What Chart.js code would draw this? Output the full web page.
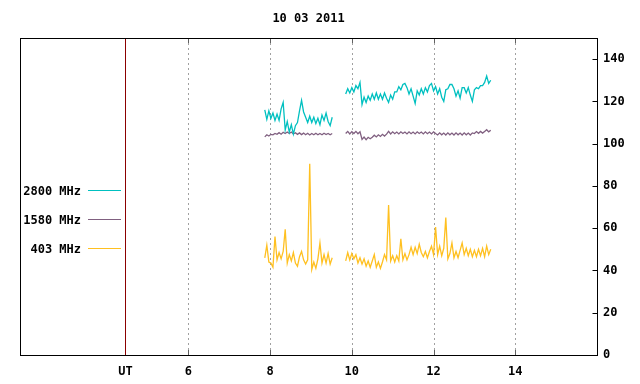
<!DOCTYPE html>
<html><head><meta charset="utf-8">
<script src="https://cdn.jsdelivr.net/npm/chart.js@4"></script>
<style>html,body{margin:0;padding:0;background:#fff}#wrap{width:640px;height:384px}</style>
</head><body><div id="wrap"><canvas id="c" width="640" height="384"></canvas></div>
<script>
const chartTitle = '10 03 2011';
const xTicks = [6, 8, 10, 12, 14];
const utHour = 4.46;
const utLabel = 'UT';
const yTicks = [0, 20, 40, 60, 80, 100, 120, 140];
const seriesLabels = ['2800 MHz', '1580 MHz', '403 MHz'];
const seriesColors = ['#00c0c0', '#806080', '#ffc020'];

const times = [
 7.87,7.92,7.97,8.02,8.07,8.12,8.17,8.22,8.27,8.32,8.37,8.42,8.47,8.52,8.57,8.62,8.67,8.72,8.77,8.82,8.87,8.92,8.97,9.02,9.07,9.12,9.17,9.22,9.27,9.32,9.37,9.42,9.47,9.52,
 9.68,
 9.85,9.90,9.95,10.00,10.05,10.10,10.15,10.20,10.25,10.30,10.35,10.40,10.45,10.50,10.55,10.60,10.65,10.70,10.75,10.80,10.85,10.90,10.95,11.00,11.05,11.10,11.15,11.20,11.25,11.30,11.35,11.40,11.45,11.50,11.55,11.60,11.65,11.70,11.75,11.80,11.85,11.90,11.95,12.00,12.05,12.10,12.15,12.20,12.25,12.30,12.35,12.40,12.45,12.50,12.55,12.60,12.65,12.70,12.75,12.80,12.85,12.90,12.95,13.00,13.05,13.10,13.15,13.20,13.25,13.30,13.35,13.40
];

const s2800 = [
 116,111.5,115.5,112,114.5,111,114,111,116.5,119.5,106.5,110.5,105.5,109,104.5,108.5,110,115.5,120.5,115,112.5,110,113,110,112.5,109.5,112,109,113.5,111,114.5,110.5,108.5,112.5,
 null,
 123.5,126,124,126.5,124.5,127.5,126,129,118.5,122,
 119.5,122.5,120.5,123.5,121,124,121,123.5,121,124,
 121.5,119.5,123,121,124.5,124.5,127,125.5,128,128.5,
 126.5,123.5,126,122.5,119,125,123,126,123.5,126.5,
 124.5,127.5,128.5,125,127,123.5,126,122,120,125.5,
 126,128,128,126,122.5,125,121.5,126.5,126.5,124,
 126.5,123,120,125.5,126.5,126,127.5,127.5,129,132,
 128.5,130
];

const s1580 = [
 103.2,104.2,103.6,104.4,104.2,104.8,104.4,105.2,104.5,105.4,104.8,105.5,104.8,105.5,104.6,105.2,104.4,105.1,104.3,105,104.2,104.9,104.1,104.8,104.2,104.9,104.2,104.8,104.2,104.9,104.3,104.8,104.2,104.8,
 null,
 104.8,105.8,104.6,105.7,104.8,105.8,104.7,105.6,
 102,103.1,101.9,103,102.3,
 103,104,103.2,104.2,103.4,104.4,103.6,104.5,
 105.8,
 104.6,105.6,104.7,105.5,104.6,105.6,104.8,105.5,104.6,105.6,104.7,105.5,104.6,105.6,104.8,105.5,104.6,105.6,104.7,105.5,104.6,105.6,104.8,
 104.1,105.1,104.2,105,104.1,105.1,104.2,105,104.1,105.1,104.2,105,104.1,105.1,104.2,105,104.1,105.1,
 104.8,105.7,104.9,105.8,105,
 105.8,106.6,105.6,106.4
];

const s403 = [
 46,52,44,43.5,41.5,56,45,48.5,45.5,49,59.5,43.5,47.5,44.5,48.5,43.5,42,46.5,49,45,43,45,90.5,40.5,44,41,45.5,53,43.5,47.5,43.5,48,43,46,
 null,
 44.5,48.5,45,48,45.5,47.5,43.5,46,43,45.5,
 42,44.5,41.5,44.5,47.5,41.5,44,41,44,47.5,
 45,71,44.5,47,44,47,44.5,55,45,48,
 45,47.5,51,47.5,51,48,52.5,48.5,46.5,49,
 46,49,51.5,47.5,60.5,47.5,51.5,47,50.5,65,
 45.5,48,53,46,49,46,49.5,53,47.5,50.5,
 47,50,46.5,49.5,46.5,50,47,50.5,46.5,51.5,
 47.5,50
];

const FONT = 'DejaVu Sans Mono';
Chart.defaults.font.family = FONT;
Chart.defaults.font.size = 12;
Chart.defaults.font.weight = 'bold';
Chart.defaults.color = '#000';

function pts(vals) { return times.map((t, i) => ({ x: t, y: vals[i] })); }

const framePlugin = {
  id: 'frame',
  beforeDatasetsDraw(chart) {
    const { ctx, chartArea: a, scales: { x } } = chart;
    ctx.save();
    ctx.lineWidth = 1;
    xTicks.forEach(v => {
      const px = Math.round(x.getPixelForValue(v)) + 0.5;
      ctx.strokeStyle = '#a0a0a0';
      ctx.setLineDash([2, 3]);
      ctx.beginPath(); ctx.moveTo(px, a.top); ctx.lineTo(px, a.bottom); ctx.stroke();
      ctx.setLineDash([]);
      ctx.strokeStyle = '#606060';
      ctx.beginPath(); ctx.moveTo(px, a.top); ctx.lineTo(px, a.top + 5); ctx.stroke();
      ctx.beginPath(); ctx.moveTo(px, a.bottom); ctx.lineTo(px, a.bottom - 5); ctx.stroke();
    });
    const ux = Math.round(x.getPixelForValue(utHour)) + 0.5;
    ctx.strokeStyle = '#8b0000';
    ctx.beginPath(); ctx.moveTo(ux, a.top); ctx.lineTo(ux, a.bottom); ctx.stroke();
    ctx.restore();
  },
  afterDatasetsDraw(chart) {
    const { ctx, chartArea: a, scales: { y } } = chart;
    ctx.save();
    ctx.lineWidth = 1;
    ctx.strokeStyle = '#000';
    const l = Math.round(a.left) + 0.5, r = Math.round(a.right) + 0.5;
    const t = Math.round(a.top) + 0.5, b = Math.round(a.bottom) + 0.5;
    ctx.strokeRect(l, t, r - l, b - t);
    yTicks.forEach(v => {
      const py = Math.round(y.getPixelForValue(v)) + 0.5;
      ctx.beginPath(); ctx.moveTo(r, py); ctx.lineTo(r - 5, py); ctx.stroke();
    });
    ctx.font = 'bold 12px ' + FONT;
    ctx.fillStyle = '#000';
    ctx.textBaseline = 'middle';
    ctx.textAlign = 'center';
    ctx.fillText(chartTitle, (a.left + a.right) / 2, 19);
    ctx.textAlign = 'right';
    chart.data.datasets.forEach((ds, i) => {
      const ly = 190.5 + i * 29;
      ctx.fillStyle = '#000';
      ctx.fillText(ds.label, 81, ly + 1);
      ctx.strokeStyle = ds.borderColor;
      ctx.beginPath(); ctx.moveTo(88, ly); ctx.lineTo(121, ly); ctx.stroke();
    });
    ctx.restore();
  }
};

new Chart(document.getElementById('c'), {
  type: 'line',
  data: {
    datasets: [
      { label: seriesLabels[0], data: pts(s2800), borderColor: seriesColors[0] },
      { label: seriesLabels[1], data: pts(s1580), borderColor: seriesColors[1] },
      { label: seriesLabels[2], data: pts(s403), borderColor: seriesColors[2] }
    ]
  },
  options: {
    responsive: false,
    devicePixelRatio: 1,
    animation: false,
    spanGaps: false,
    elements: { point: { radius: 0 }, line: { borderWidth: 1.3, tension: 0 } },
    layout: { padding: { left: 20, right: 0, top: 38, bottom: 0 } },
    plugins: {
      legend: { display: false },
      tooltip: { enabled: false },
      title: { display: false }
    },
    scales: {
      x: {
        type: 'linear', position: 'bottom', min: 1.88, max: 16,
        grid: { display: false, drawTicks: false },
        border: { display: false },
        afterBuildTicks: s => { s.ticks = [utHour, ...xTicks].map(v => ({ value: v })); },
        afterFit: s => { s.height = 29; },
        ticks: {
          autoSkip: false, maxRotation: 0, padding: 10,
          callback: v => (v === utHour ? utLabel : String(v))
        }
      },
      y: {
        type: 'linear', position: 'right', min: 0, max: 150,
        grid: { display: false, drawTicks: false },
        border: { display: false },
        afterBuildTicks: s => { s.ticks = yTicks.map(v => ({ value: v })); },
        afterFit: s => { s.width = 43; },
        ticks: { padding: 6, callback: v => String(v) }
      }
    }
  },
  plugins: [framePlugin]
});
</script>
</body></html>
